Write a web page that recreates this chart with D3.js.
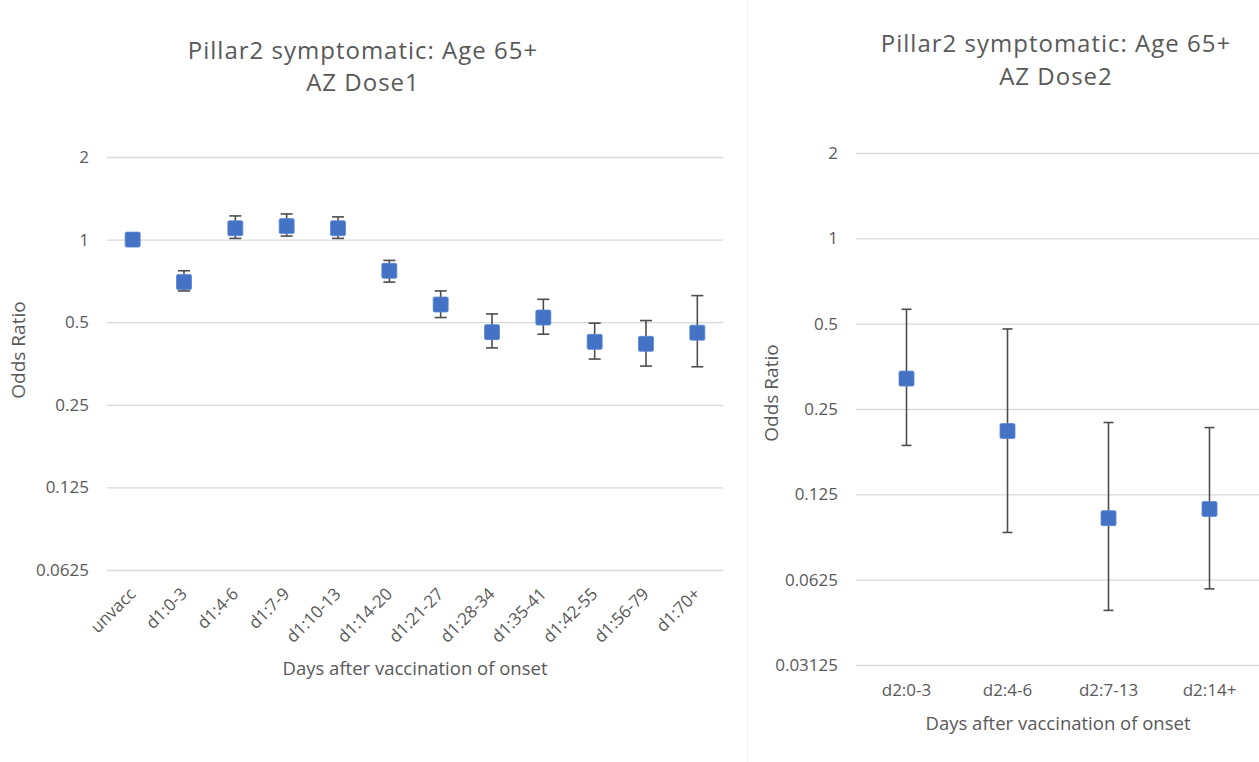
<!DOCTYPE html>
<html>
<head>
<meta charset="utf-8">
<script src="https://cdn.jsdelivr.net/npm/d3@7"></script>
<style>
  body { margin: 0; background: #fff; }
  svg { font-family: "Open Sans", sans-serif; }
</style>
</head>
<body>
<svg width="1259" height="762"></svg>
<script>
// dose 1 panel
const dose1Cats = ['unvacc', 'd1:0-3', 'd1:4-6', 'd1:7-9', 'd1:10-13', 'd1:14-20', 'd1:21-27', 'd1:28-34', 'd1:35-41', 'd1:42-55', 'd1:56-79', 'd1:70+'];
const dose1OR = [1.0, 0.70, 1.10, 1.12, 1.10, 0.77, 0.58, 0.46, 0.52, 0.424, 0.417, 0.458];
const dose1Lo = [null, 0.65, 1.01, 1.03, 1.01, 0.70, 0.52, 0.403, 0.452, 0.367, 0.346, 0.344];
const dose1Hi = [null, 0.77, 1.22, 1.24, 1.21, 0.84, 0.65, 0.536, 0.606, 0.496, 0.507, 0.625];
const dose1Ticks = [0.0625, 0.125, 0.25, 0.5, 1, 2];

// dose 2 panel
const dose2Cats = ['d2:0-3', 'd2:4-6', 'd2:7-13', 'd2:14+'];
const dose2OR = [0.320, 0.209, 0.103, 0.111];
const dose2Lo = [0.186, 0.0917, 0.0487, 0.058];
const dose2Hi = [0.562, 0.479, 0.224, 0.215];
const dose2Ticks = [0.03125, 0.0625, 0.125, 0.25, 0.5, 1, 2];

const svg = d3.select('svg');
const textCol = '#595959';

// faint border of the second picture
svg.append('line')
  .attr('x1', 747.5).attr('x2', 747.5).attr('y1', 0).attr('y2', 762)
  .attr('stroke', '#efefef').attr('stroke-width', 1);

function panel(opt) {
  const g = svg.append('g');
  const x = d3.scaleBand().domain(opt.cats).range(opt.xr);
  const y = d3.scaleLog().base(2).domain(opt.yd).range(opt.yr);

  const yAxis = d3.axisLeft(y)
    .tickValues(opt.ticks)
    .tickFormat(d => String(d))
    .tickSize(-(opt.xr[1] - opt.xr[0]))
    .tickPadding(18);
  const ya = g.append('g')
    .attr('transform', `translate(${opt.xr[0]},0)`)
    .call(yAxis);
  ya.select('.domain').remove();
  ya.selectAll('.tick line').attr('stroke', '#d9d9d9').attr('stroke-width', 1.3);
  ya.selectAll('.tick text').attr('fill', textCol)
    .style('font-family', '"Open Sans", sans-serif').style('font-size', '17px');

  // titles
  const t = g.append('text')
    .attr('text-anchor', 'middle')
    .attr('fill', textCol)
    .style('font-size', '24px')
    .style('letter-spacing', '1px');
  t.append('tspan').attr('x', opt.titleX).attr('y', opt.titleY[0]).text(opt.title[0]);
  t.append('tspan').attr('x', opt.titleX).attr('y', opt.titleY[1]).text(opt.title[1]);

  g.append('text')
    .attr('transform', `translate(${opt.yTitle[0]},${opt.yTitle[1]}) rotate(-90)`)
    .attr('text-anchor', 'middle')
    .attr('fill', textCol)
    .style('font-size', '19px')
    .text('Odds Ratio');

  g.append('text')
    .attr('x', opt.xTitle[0]).attr('y', opt.xTitle[1])
    .attr('text-anchor', 'middle')
    .attr('fill', textCol)
    .style('font-size', '18.5px')
    .text('Days after vaccination of onset');

  // category labels
  const lab = g.append('g').selectAll('text')
    .data(opt.cats).enter().append('text')
    .attr('fill', textCol)
    .style('font-size', '17px')
    .text(d => d);
  if (opt.rotate) {
    lab.attr('text-anchor', 'end')
      .attr('transform', d => `translate(${x(d) + x.bandwidth() / 2 + 4},${opt.labY}) rotate(-45)`);
  } else {
    lab.attr('text-anchor', 'middle')
      .attr('x', d => x(d) + x.bandwidth() / 2)
      .attr('y', opt.labY);
  }

  const pts = opt.cats.map((c, i) => ({ c, v: opt.or[i], lo: opt.lo[i], hi: opt.hi[i] }));
  const cx = d => x(d.c) + x.bandwidth() / 2;

  const eb = g.append('g').selectAll('g')
    .data(pts.filter(d => d.lo != null)).enter().append('g')
    .attr('stroke', '#4d4d4d').attr('stroke-width', 1.6);
  eb.append('line')
    .attr('x1', cx).attr('x2', cx)
    .attr('y1', d => y(d.lo)).attr('y2', d => y(d.hi));
  eb.append('line')
    .attr('x1', d => cx(d) - opt.cap).attr('x2', d => cx(d) + opt.cap)
    .attr('y1', d => y(d.lo)).attr('y2', d => y(d.lo));
  eb.append('line')
    .attr('x1', d => cx(d) - opt.cap).attr('x2', d => cx(d) + opt.cap)
    .attr('y1', d => y(d.hi)).attr('y2', d => y(d.hi));

  const s = 15;
  g.append('g').selectAll('rect')
    .data(pts).enter().append('rect')
    .attr('x', d => cx(d) - s / 2)
    .attr('y', d => y(d.v) - s / 2)
    .attr('width', s).attr('height', s)
    .attr('rx', 1.5)
    .attr('fill', '#4472c4')
    .attr('stroke', '#5b86d6').attr('stroke-width', 0.8);
}

panel({
  cats: dose1Cats, or: dose1OR, lo: dose1Lo, hi: dose1Hi, ticks: dose1Ticks,
  xr: [107, 723], yd: [0.0625, 2], yr: [570, 157],
  title: ['Pillar2 symptomatic: Age 65+', 'AZ Dose1'], titleX: 363, titleY: [59, 91],
  yTitle: [25, 350], xTitle: [415, 675], rotate: true, labY: 595, cap: 6
});

panel({
  cats: dose2Cats, or: dose2OR, lo: dose2Lo, hi: dose2Hi, ticks: dose2Ticks,
  xr: [856, 1260], yd: [0.03125, 2], yr: [665, 153],
  title: ['Pillar2 symptomatic: Age 65+', 'AZ Dose2'], titleX: 1056, titleY: [52, 85],
  yTitle: [778, 393], xTitle: [1058, 730], rotate: false, labY: 696, cap: 5
});
</script>
</body>
</html>
